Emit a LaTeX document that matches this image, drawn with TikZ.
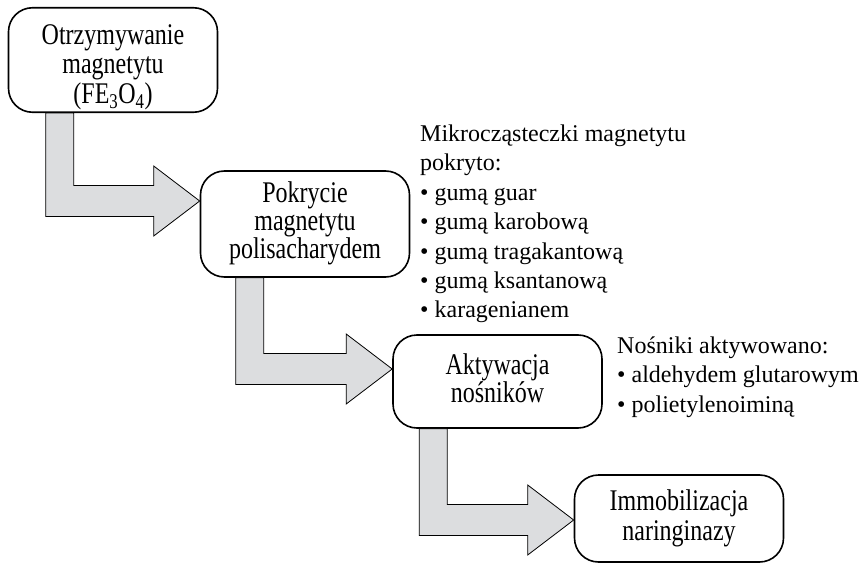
\documentclass[tikz,border=0pt]{standalone}
\usepackage{fontspec}
\setmainfont{Liberation Serif}
\newfontfamily\stagefont[FakeStretch=0.8]{Liberation Serif}
\setlength{\lineskiplimit}{-100pt}
\usetikzlibrary{calc}
\definecolor{arrowgray}{RGB}{220,221,223}
\newcommand{\stagestrut}{\rule[-7pt]{0pt}{28pt}}
\tikzset{
  stage/.style={draw, line width=1.6pt, rounded corners=24pt, fill=white, align=center,
    minimum width=209pt, inner sep=2pt, font=\stagefont\fontsize{30}{28}\selectfont,
    execute at begin node=\stagestrut, execute at end node=\stagestrut},
  blockarrow/.style={draw, line width=0.8pt, fill=arrowgray, line join=miter},
  notes/.style={align=left, anchor=north west, inner sep=0pt, font=\fontsize{24}{29.4}\selectfont}
}
% source node, shaft offset, target node, shift of the tip
\newcommand{\stagearrow}[4]{%
  \coordinate (tip) at ([yshift=#4]#3.west);
  \draw[blockarrow] ([xshift=#2]#1.south west)
    -- ([xshift=#2+28pt]#1.south west)
    |- ([xshift=-46pt,yshift=15.5pt]tip)
    -- ([xshift=-46pt,yshift=35pt]tip)
    -- (tip)
    -- ([xshift=-46pt,yshift=-35pt]tip)
    -- ([xshift=-46pt,yshift=-15.5pt]tip)
    -| ([xshift=#2]#1.south west) -- cycle;
}
\begin{document}
\begin{tikzpicture}[x=1pt,y=-1pt]
\useasboundingbox[fill=white] (0,0) rectangle (861,564);
\node[stage, minimum height=100pt] (fe3o4) at (113,60) {\rule{0pt}{35pt}Otrzymywanie\\[1pt]magnetytu\\[1.5pt](FE\textsubscript{3}O\textsubscript{4})};
\node[stage, minimum height=106pt] (coat) at (305,224) {Pokrycie\\magnetytu\\polisacharydem};
\node[stage, minimum height=93pt] (activ) at (497.5,381.5) {Aktywacja\\nośników};
\node[stage, minimum height=87pt] (immob) at (679,518.5) {Immobilizacja\\[2pt]naringinazy};
\stagearrow{fe3o4}{38pt}{coat}{23pt}
\stagearrow{coat}{36pt}{activ}{12.5pt}
\stagearrow{activ}{27pt}{immob}{-1.5pt}
\node[notes] (gums) at (420,124.6) {Mikrocząsteczki magnetytu\\pokryto:\\\textbullet{} gumą guar\\\textbullet{} gumą karobową\\\textbullet{} gumą tragakantową\\\textbullet{} gumą ksantanową\\\textbullet{} karagenianem};
\node[notes] (agents) at (617,336.6) {Nośniki aktywowano:\\\textbullet{} aldehydem glutarowym\\\textbullet{} polietylenoiminą};
\end{tikzpicture}
\end{document}
